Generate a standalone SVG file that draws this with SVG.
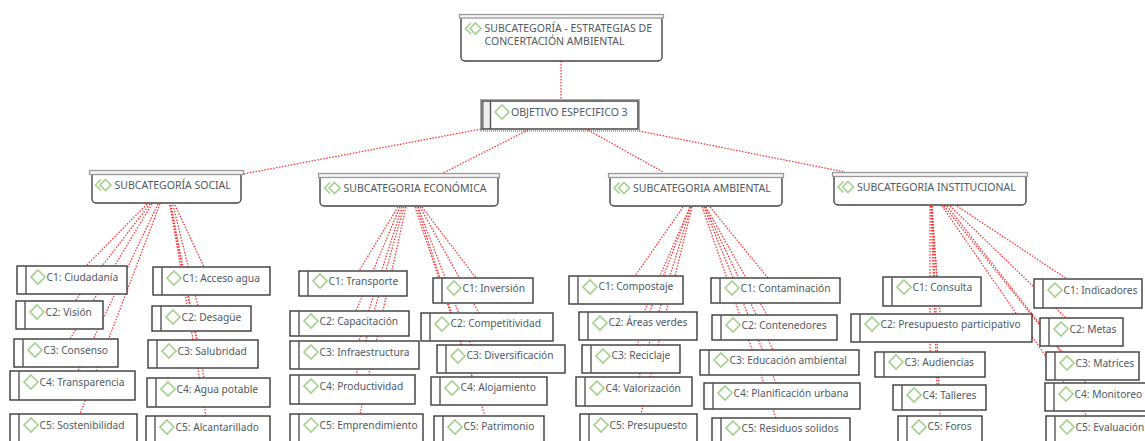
<svg xmlns="http://www.w3.org/2000/svg" width="1145" height="441" viewBox="0 0 1145 441">
<style>
text{font-family:"Noto Sans","Open Sans","Liberation Sans",sans-serif;font-size:10.2px;fill:#4f5963}
.c{font-size:10.5px}
.n{fill:#fff;stroke:#3a3a3a;stroke-width:1.4}
.s{fill:#fff;stroke:#444;stroke-width:1.4}
.b{fill:#f4f4f4;stroke:#9a9a9a;stroke-width:1.3}
.v{fill:none;stroke:#555;stroke-width:1.4}
.g{fill:none;stroke:#a3d18c;stroke-width:1.6}
#links line{stroke:#ff3030;stroke-width:1.25;stroke-dasharray:1.5 1.5}
</style>
<defs>
<path id="dm" class="g" d="M0-7L7 0 0 7-7 0Z"/>
<g id="dd"><path class="g" d="M5.500-5.500L0 0 5.500 5.500"/><path class="g" d="M10-5.500L15.500 0 10 5.500 4.500 0Z"/></g>
</defs>
<g id="links">
<line x1="561" y1="61" x2="561" y2="99"/>
<line x1="481" y1="129" x2="243" y2="174"/>
<line x1="528" y1="130" x2="443" y2="173"/>
<line x1="588" y1="130" x2="663" y2="172"/>
<line x1="639" y1="131" x2="845" y2="172"/>
<line x1="147" y1="204" x2="86" y2="266"/>
<line x1="150" y1="204" x2="75" y2="301"/>
<line x1="152" y1="204" x2="70" y2="339"/>
<line x1="158" y1="204" x2="78" y2="371"/>
<line x1="160" y1="204" x2="80" y2="414"/>
<line x1="175" y1="205" x2="204" y2="267"/>
<line x1="173" y1="205" x2="198" y2="306"/>
<line x1="171" y1="205" x2="197" y2="340"/>
<line x1="170" y1="205" x2="204" y2="378"/>
<line x1="170" y1="205" x2="206" y2="416"/>
<line x1="398" y1="207" x2="359" y2="271"/>
<line x1="400" y1="207" x2="356" y2="311"/>
<line x1="402" y1="207" x2="359" y2="341"/>
<line x1="404" y1="207" x2="356" y2="375"/>
<line x1="406" y1="207" x2="360" y2="414"/>
<line x1="422" y1="207" x2="476" y2="278"/>
<line x1="420" y1="207" x2="479" y2="313"/>
<line x1="418" y1="207" x2="471" y2="345"/>
<line x1="415" y1="207" x2="472" y2="377"/>
<line x1="417" y1="207" x2="485" y2="416"/>
<line x1="683" y1="207" x2="635" y2="276"/>
<line x1="690" y1="207" x2="644" y2="312"/>
<line x1="690" y1="207" x2="637" y2="345"/>
<line x1="691" y1="207" x2="639" y2="377"/>
<line x1="692" y1="207" x2="641" y2="414"/>
<line x1="710" y1="207" x2="768" y2="278"/>
<line x1="706" y1="207" x2="767" y2="315"/>
<line x1="705" y1="207" x2="773" y2="350"/>
<line x1="704" y1="207" x2="776" y2="383"/>
<line x1="702" y1="207" x2="776" y2="418"/>
<line x1="932" y1="206" x2="937" y2="277"/>
<line x1="931" y1="206" x2="940" y2="314"/>
<line x1="930" y1="206" x2="930" y2="352"/>
<line x1="931" y1="206" x2="937" y2="385"/>
<line x1="932" y1="206" x2="940" y2="416"/>
<line x1="957" y1="206" x2="1067" y2="279"/>
<line x1="950" y1="206" x2="1066" y2="318"/>
<line x1="947" y1="206" x2="1062" y2="352"/>
<line x1="944" y1="206" x2="1086" y2="383"/>
<line x1="942" y1="206" x2="1087" y2="416"/>
</g>
<g id="top"><rect class="s" x="461" y="16" width="201" height="45" rx="4"/><rect class="b" x="459.500" y="14.500" width="204" height="3.500"/><use href="#dd" x="465.500" y="28.500"/><text class="c" x="484.500" y="32">SUBCATEGORÍA - ESTRATEGIAS DE</text><text class="c" x="484.500" y="45">CONCERTACIÓN AMBIENTAL</text></g>
<g id="obj"><rect x="480.500" y="99.500" width="159" height="31.500" fill="none" stroke="#555" stroke-dasharray="1 1"/><rect x="482" y="101" width="8.500" height="28" fill="#eee"/><rect class="n" x="482" y="101" width="156" height="28" style="fill:none"/><path d="M483 102V128" stroke="#888" stroke-width="1.500"/><path class="v" d="M490.500 101V129"/><use href="#dm" x="502" y="112"/><text class="c" x="511" y="116">OBJETIVO ESPECIFICO 3</text></g>
<g id="sub-social"><rect class="s" x="92" y="172" width="149" height="31" rx="4"/><rect class="b" x="89.500" y="170.500" width="154" height="4"/><use href="#dd" x="95.500" y="185"/><text class="c" x="114.500" y="189">SUBCATEGORÍA SOCIAL</text></g>
<g id="sub-eco"><rect class="s" x="320" y="175" width="178" height="31" rx="4"/><rect class="b" x="318.500" y="173.500" width="181" height="4"/><use href="#dd" x="324.500" y="188"/><text class="c" x="343.500" y="192">SUBCATEGORIA ECONÓMICA</text></g>
<g id="sub-amb"><rect class="s" x="610" y="175" width="172" height="31" rx="4"/><rect class="b" x="608.500" y="173.500" width="175" height="4"/><use href="#dd" x="614" y="188"/><text class="c" x="633" y="192">SUBCATEGORIA AMBIENTAL</text></g>
<g id="sub-inst"><rect class="s" x="834" y="174" width="192" height="31" rx="4"/><rect class="b" x="832.500" y="172.500" width="195" height="4"/><use href="#dd" x="838" y="187"/><text class="c" x="857" y="191">SUBCATEGORIA INSTITUCIONAL</text></g>
<g id="s1" transform="translate(17 266)"><rect class="n" width="110" height="28"/><path class="v" d="M9 0V28"/><use href="#dm" x="21" y="11"/><text x="29.500" y="14.500">C1: Ciudadanía</text></g>
<g id="s2" transform="translate(16 301)"><rect class="n" width="87" height="28"/><path class="v" d="M9 0V28"/><use href="#dm" x="21" y="11"/><text x="29.500" y="14.500">C2: Visión</text></g>
<g id="s3" transform="translate(14 339)"><rect class="n" width="104" height="28"/><path class="v" d="M9 0V28"/><use href="#dm" x="21" y="11"/><text x="29.500" y="14.500">C3: Consenso</text></g>
<g id="s4" transform="translate(10 371)"><rect class="n" width="125" height="29"/><path class="v" d="M9 0V29"/><use href="#dm" x="21" y="11"/><text x="29.500" y="14.500">C4: Transparencia</text></g>
<g id="s5" transform="translate(10 414)"><rect class="n" width="127" height="29"/><path class="v" d="M9 0V29"/><use href="#dm" x="21" y="11"/><text x="29.500" y="14.500">C5: Sostenibilidad</text></g>
<g id="s6" transform="translate(153 267)"><rect class="n" width="117" height="28"/><path class="v" d="M9 0V28"/><use href="#dm" x="21" y="11"/><text x="29.500" y="14.500">C1: Acceso agua</text></g>
<g id="s7" transform="translate(152 306)"><rect class="n" width="99" height="25"/><path class="v" d="M9 0V25"/><use href="#dm" x="21" y="11"/><text x="29.500" y="14.500">C2: Desagüe</text></g>
<g id="s8" transform="translate(148 340)"><rect class="n" width="110" height="28"/><path class="v" d="M9 0V28"/><use href="#dm" x="21" y="11"/><text x="29.500" y="14.500">C3: Salubridad</text></g>
<g id="s9" transform="translate(147 378)"><rect class="n" width="123" height="29"/><path class="v" d="M9 0V29"/><use href="#dm" x="21" y="11"/><text x="29.500" y="14.500">C4: Agua potable</text></g>
<g id="s10" transform="translate(146 416)"><rect class="n" width="124" height="28"/><path class="v" d="M9 0V28"/><use href="#dm" x="21" y="11"/><text x="29.500" y="14.500">C5: Alcantarillado</text></g>
<g id="e1" transform="translate(299 271)"><rect class="n" width="108" height="25"/><path class="v" d="M9 0V25"/><use href="#dm" x="21" y="10"/><text x="29.500" y="14">C1: Transporte</text></g>
<g id="e2" transform="translate(290 311)"><rect class="n" width="119" height="25"/><path class="v" d="M9 0V25"/><use href="#dm" x="21" y="10"/><text x="29.500" y="14">C2: Capacitación</text></g>
<g id="e3" transform="translate(290 341)"><rect class="n" width="129" height="28"/><path class="v" d="M9 0V28"/><use href="#dm" x="21" y="11"/><text x="29.500" y="14.500">C3: Infraestructura</text></g>
<g id="e4" transform="translate(290 375)"><rect class="n" width="125" height="29"/><path class="v" d="M9 0V29"/><use href="#dm" x="21" y="11"/><text x="29.500" y="14.500">C4: Productividad</text></g>
<g id="e5" transform="translate(290 414)"><rect class="n" width="133" height="29"/><path class="v" d="M9 0V29"/><use href="#dm" x="21" y="11"/><text x="29.500" y="14.500">C5: Emprendimiento</text></g>
<g id="e6" transform="translate(433 278)"><rect class="n" width="100" height="25"/><path class="v" d="M9 0V25"/><use href="#dm" x="21" y="10"/><text x="29.500" y="14">C1: Inversión</text></g>
<g id="e7" transform="translate(421 313)"><rect class="n" width="132" height="28"/><path class="v" d="M9 0V28"/><use href="#dm" x="21" y="11"/><text x="29.500" y="14">C2: Competitividad</text></g>
<g id="e8" transform="translate(437 345)"><rect class="n" width="128" height="28"/><path class="v" d="M9 0V28"/><use href="#dm" x="21" y="11"/><text x="29.500" y="14">C3: Diversificación</text></g>
<g id="e9" transform="translate(431 377)"><rect class="n" width="116" height="28"/><path class="v" d="M9 0V28"/><use href="#dm" x="21" y="11"/><text x="29.500" y="14">C4: Alojamiento</text></g>
<g id="e10" transform="translate(434 416)"><rect class="n" width="110" height="28"/><path class="v" d="M9 0V28"/><use href="#dm" x="21" y="11"/><text x="29.500" y="14">C5: Patrimonio</text></g>
<g id="a1" transform="translate(569 276)"><rect class="n" width="114" height="28"/><path class="v" d="M9 0V28"/><use href="#dm" x="21" y="11"/><text x="29.500" y="14">C1: Compostaje</text></g>
<g id="a2" transform="translate(579 312)"><rect class="n" width="118" height="28"/><path class="v" d="M9 0V28"/><use href="#dm" x="21" y="11"/><text x="29.500" y="14">C2: Áreas verdes</text></g>
<g id="a3" transform="translate(582 345)"><rect class="n" width="98" height="28"/><path class="v" d="M9 0V28"/><use href="#dm" x="21" y="11"/><text x="29.500" y="14">C3: Reciclaje</text></g>
<g id="a4" transform="translate(576 377)"><rect class="n" width="116" height="29"/><path class="v" d="M9 0V29"/><use href="#dm" x="21" y="11"/><text x="29.500" y="14.500">C4: Valorización</text></g>
<g id="a5" transform="translate(580 414)"><rect class="n" width="117" height="29"/><path class="v" d="M9 0V29"/><use href="#dm" x="21" y="11"/><text x="29.500" y="14.500">C5: Presupuesto</text></g>
<g id="a6" transform="translate(711 278)"><rect class="n" width="129" height="25"/><path class="v" d="M9 0V25"/><use href="#dm" x="21" y="10"/><text x="29.500" y="14">C1: Contaminación</text></g>
<g id="a7" transform="translate(712 315)"><rect class="n" width="125" height="25"/><path class="v" d="M9 0V25"/><use href="#dm" x="21" y="10"/><text x="29.500" y="14">C2: Contenedores</text></g>
<g id="a8" transform="translate(700 350)"><rect class="n" width="159" height="25"/><path class="v" d="M9 0V25"/><use href="#dm" x="21" y="10"/><text x="29.500" y="14">C3: Educación ambiental</text></g>
<g id="a9" transform="translate(704 383)"><rect class="n" width="156" height="26"/><path class="v" d="M9 0V26"/><use href="#dm" x="21" y="10"/><text x="29.500" y="14">C4: Planificación urbana</text></g>
<g id="a10" transform="translate(712 418)"><rect class="n" width="138" height="26"/><path class="v" d="M9 0V26"/><use href="#dm" x="21" y="10"/><text x="29.500" y="14">C5: Residuos solidos</text></g>
<g id="i1" transform="translate(883 277)"><rect class="n" width="98" height="29"/><path class="v" d="M9 0V29"/><use href="#dm" x="21" y="10"/><text x="29.500" y="14">C1: Consulta</text></g>
<g id="i2" transform="translate(851 314)"><rect class="n" width="181" height="28"/><path class="v" d="M9 0V28"/><use href="#dm" x="21" y="10"/><text x="29.500" y="14">C2: Presupuesto participativo</text></g>
<g id="i3" transform="translate(875 352)"><rect class="n" width="110" height="25"/><path class="v" d="M9 0V25"/><use href="#dm" x="21" y="10"/><text x="29.500" y="14">C3: Audiencias</text></g>
<g id="i4" transform="translate(893 385)"><rect class="n" width="93" height="25"/><path class="v" d="M9 0V25"/><use href="#dm" x="21" y="10"/><text x="29.500" y="14">C4: Talleres</text></g>
<g id="i5" transform="translate(898 416)"><rect class="n" width="84" height="28"/><path class="v" d="M9 0V28"/><use href="#dm" x="21" y="11"/><text x="29.500" y="14">C5: Foros</text></g>
<g id="i6" transform="translate(1034 279)"><rect class="n" width="108" height="29"/><path class="v" d="M9 0V29"/><use href="#dm" x="21" y="11"/><text x="29.500" y="14.500">C1: Indicadores</text></g>
<g id="i7" transform="translate(1040 318)"><rect class="n" width="83" height="28"/><path class="v" d="M9 0V28"/><use href="#dm" x="21" y="11"/><text x="29.500" y="14.500">C2: Metas</text></g>
<g id="i8" transform="translate(1046 352)"><rect class="n" width="93" height="28"/><path class="v" d="M9 0V28"/><use href="#dm" x="21" y="11"/><text x="29.500" y="14.500">C3: Matrices</text></g>
<g id="i9" transform="translate(1045 383)"><rect class="n" width="105" height="28"/><path class="v" d="M9 0V28"/><use href="#dm" x="21" y="11"/><text x="29.500" y="14.500">C4: Monitoreo</text></g>
<g id="i10" transform="translate(1046 416)"><rect class="n" width="105" height="28"/><path class="v" d="M9 0V28"/><use href="#dm" x="21" y="11"/><text x="29.500" y="14.500">C5: Evaluación</text></g>
</svg>
